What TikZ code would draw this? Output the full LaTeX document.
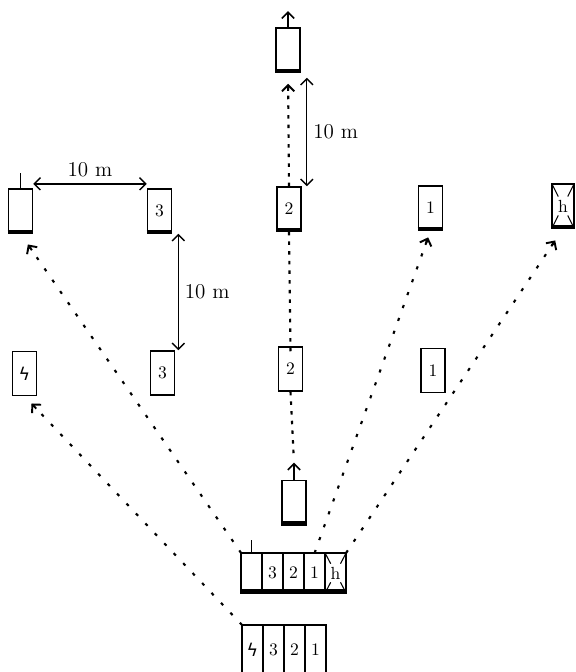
\documentclass[tikz,border=0pt]{standalone}
\usepackage{fontspec}
\newfontfamily\glyphfont{DejaVu Sans}
\usetikzlibrary{arrows.meta,positioning,calc}

\begin{document}
\begin{tikzpicture}[
    x=0.02cm, y=-0.02cm,
    >={Straight Barb[length=3.5pt,width=7pt]},
    car/.style={draw, line width=0.9pt, minimum width=0.48cm, minimum height=0.88cm, inner sep=0pt},
    cell/.style={draw, line width=0.9pt, minimum width=0.42cm, minimum height=0.8cm, inner sep=0pt, outer sep=0pt},
    crossed/.style={path picture={\foreach \c in {north west,north east,south west,south east}
        \draw[line width=0.6pt, shorten >=6pt] (path picture bounding box.\c) -- (path picture bounding box.center);}},
    rear/.style={line width=2.6pt},
    trail/.style={line width=1.2pt, dash pattern=on 1.8pt off 6pt},
    lane/.style={line width=1.2pt, dash pattern=on 2pt off 3.5pt},
    tip/.style={->, line width=1.1pt},
    gap/.style={<->, line width=0.8pt},
    lbl/.style={font=\large}
  ]
  \useasboundingbox (0,0) rectangle (575,672);

  % vehicles on the lanes
  \node[car] (top) at (288,50) {};
  \node[car] (lb) at (20.5,211) {};
  \node[car] (b3a) at (159.5,211) {3};
  \node[car] (b2a) at (289,209) {2};
  \node[car] (b1a) at (430.5,208) {1};
  \node[car, crossed, minimum width=0.44cm] (bha) at (563,206) {h};
  \node[car] (bzb) at (24.5,373.5) {\glyphfont ϟ};
  \node[car] (b3b) at (162.5,373) {3};
  \node[car] (b2b) at (290.5,369) {2};
  \node[car] (b1b) at (433,370.5) {1};
  \node[car] (last) at (294,502.5) {};

  % the two queues
  \node[cell] (ts1) at (251.6,573) {};
  \node[cell, right=0pt of ts1] (ts2) {3};
  \node[cell, right=0pt of ts2] (ts3) {2};
  \node[cell, right=0pt of ts3] (ts4) {1};
  \node[cell, crossed, right=0pt of ts4] (ts5) {h};

  \node[cell, minimum height=1cm] (bs1) at (252.5,650) {\glyphfont ϟ};
  \node[cell, minimum height=1cm, right=0pt of bs1] (bs2) {3};
  \node[cell, minimum height=1cm, right=0pt of bs2] (bs3) {2};
  \node[cell, minimum height=1cm, right=0pt of bs3] (bs4) {1};

  % rear edges
  \foreach \n in {top,lb,b3a,b2a,b1a,bha,last}
    \draw[rear] ([yshift=1.1pt]\n.south west) -- ([yshift=1.1pt]\n.south east);
  \draw[rear] ([yshift=1.1pt]ts1.south west) -- ([yshift=1.1pt]ts5.south east);

  % heading marks
  \draw[->, line width=0.9pt] (top.north) -- ++(0,-16);
  \draw[line width=0.9pt] (lb.north) -- ++(0,-15);
  \draw[line width=0.9pt] (ts1.north) -- ++(0,-13);
  \draw[->, line width=0.9pt] (last.north) -- ++(0,-17) coordinate (lasttip);

  % paths
  \draw[trail, shorten >=0.26cm] (ts1.north west) -- (lb.south);
  \draw[tip, shorten >=0.26cm] ($(lb.south)!0.4cm!(ts1.north west)$) -- (lb.south);
  \draw[trail, shorten >=0.2cm] (bs1.north west) -- (bzb.south);
  \draw[tip, shorten >=0.2cm] ($(bzb.south)!0.34cm!(bs1.north west)$) -- (bzb.south);
  \draw[trail, shorten >=0.14cm] (ts4.north) -- (b1a.south);
  \draw[tip, shorten >=0.14cm] ($(b1a.south)!0.3cm!(ts4.north)$) -- (b1a.south);
  \draw[trail, shorten >=0.28cm] (ts5.north east) -- (bha.south);
  \draw[tip, shorten >=0.28cm] ($(bha.south)!0.42cm!(ts5.north east)$) -- (bha.south);
  \draw[lane] (b2a.south) -- ([yshift=-4pt]b2b.north);
  \draw[lane, shorten >=2pt] (b2b.south) -- (lasttip);
  \draw[lane, shorten >=0.22cm] (b2a.north) -- (top.south);
  \draw[tip, shorten >=0.22cm] ($(top.south)!0.36cm!(b2a.north)$) -- (top.south);

  % distances
  \draw[gap] ([yshift=2.5pt]lb.north east) -- node[lbl, above] {10 m} ([yshift=2.5pt]b3a.north west);
  \draw[gap] ($(b3a.south east)+(6,0)$) -- node[lbl, right] {10 m} ($(b3b.north east)+(3,0)$);
  \draw[gap] ($(top.south east)+(6,5)$) -- node[lbl, right] {10 m} ($(b2a.north east)+(5,0)$);
\end{tikzpicture}
\end{document}
